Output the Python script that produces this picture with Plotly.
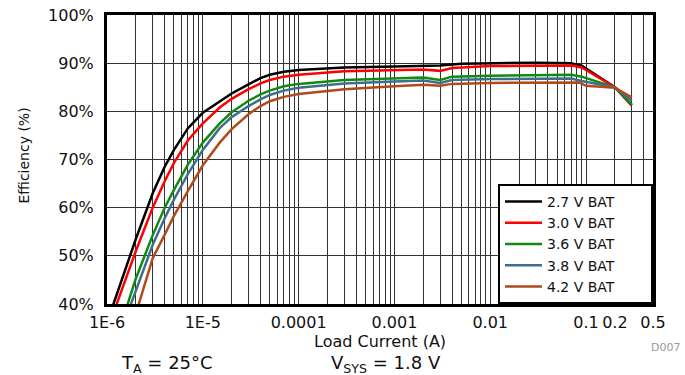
import plotly.graph_objects as go

# ---------------- data ----------------
names = ["2.7 V BAT", "3.0 V BAT", "3.6 V BAT", "3.8 V BAT", "4.2 V BAT"]
colors = ["#000000", "#ff0000", "#118a11", "#3f6e8c", "#b04a1c"]

x_27 = [1.1e-6, 1.5e-6, 2e-6, 3e-6, 4e-6, 5e-6, 7e-6, 1e-5, 1.5e-5, 2e-5, 3e-5, 4e-5, 5e-5, 7e-5, 1e-4, 3e-4, 1e-3, 3e-3, 5e-3, 0.01, 0.03, 0.07, 0.09, 0.2, 0.3]
y_27 = [38.5, 46.5, 53.5, 63.0, 68.5, 72.0, 76.5, 79.7, 82.0, 83.7, 85.6, 86.9, 87.6, 88.2, 88.6, 89.1, 89.3, 89.5, 89.9, 90.0, 90.1, 90.0, 89.5, 85.0, 81.3]

x_30 = [1.2e-6, 1.5e-6, 2e-6, 3e-6, 4e-6, 5e-6, 7e-6, 1e-5, 1.5e-5, 2e-5, 3e-5, 4e-5, 5e-5, 7e-5, 1e-4, 3e-4, 1e-3, 2e-3, 3e-3, 4e-3, 0.01, 0.03, 0.07, 0.09, 0.2, 0.3]
y_30 = [38.8, 44.0, 51.0, 60.0, 65.5, 69.3, 74.0, 77.5, 80.8, 82.6, 84.6, 85.8, 86.5, 87.2, 87.6, 88.3, 88.6, 88.7, 88.4, 89.0, 89.4, 89.5, 89.5, 89.1, 85.0, 81.2]

x_36 = [1.5e-6, 2e-6, 3e-6, 4e-6, 5e-6, 7e-6, 1e-5, 1.5e-5, 2e-5, 3e-5, 4e-5, 5e-5, 7e-5, 1e-4, 3e-4, 1e-3, 2e-3, 3e-3, 4e-3, 0.01, 0.03, 0.07, 0.09, 0.2, 0.3]
y_36 = [37.5, 45.3, 54.3, 60.0, 63.7, 69.0, 73.5, 77.5, 79.8, 82.2, 83.5, 84.3, 85.2, 85.7, 86.5, 86.8, 87.0, 86.5, 87.2, 87.4, 87.6, 87.6, 87.2, 85.0, 81.4]

x_38 = [1.6e-6, 2e-6, 3e-6, 4e-6, 5e-6, 7e-6, 1e-5, 1.5e-5, 2e-5, 3e-5, 4e-5, 5e-5, 7e-5, 1e-4, 3e-4, 1e-3, 2e-3, 3e-3, 4e-3, 0.01, 0.03, 0.07, 0.09, 0.2, 0.3]
y_38 = [37.5, 42.8, 52.3, 57.8, 61.7, 67.0, 72.0, 76.5, 78.8, 81.1, 82.5, 83.4, 84.3, 84.9, 85.8, 86.2, 86.4, 85.9, 86.5, 86.7, 86.8, 86.8, 86.3, 85.0, 82.2]

x_42 = [2e-6, 3e-6, 4e-6, 5e-6, 7e-6, 1e-5, 1.5e-5, 2e-5, 3e-5, 4e-5, 5e-5, 7e-5, 1e-4, 3e-4, 1e-3, 2e-3, 3e-3, 4e-3, 0.01, 0.03, 0.085, 0.1, 0.2, 0.3]
y_42 = [38.0, 49.5, 54.4, 58.3, 63.5, 68.8, 73.5, 76.3, 79.4, 81.1, 82.1, 83.0, 83.6, 84.6, 85.2, 85.5, 85.3, 85.7, 85.9, 86.0, 86.0, 85.3, 84.9, 82.9]

series_x = [x_27, x_30, x_36, x_38, x_42]
series_y = [y_27, y_30, y_36, y_38, y_42]

# axis ticks
x_grid = [m * 10 ** e for e in range(-6, 0) for m in range(1, 10)] + [0.5]
x_labels = {1e-6: "1E-6", 1e-5: "1E-5", 1e-4: "0.0001", 1e-3: "0.001", 0.01: "0.01", 0.1: "0.1", 0.2: "0.2", 0.5: "0.5"}
y_ticks = [40, 50, 60, 70, 80, 90, 100]

FONT = "DejaVu Sans"
PAD = "\u00a0" * 7

fig = go.Figure()
for xs, ys, nm, c in zip(series_x, series_y, names, colors):
    fig.add_trace(go.Scatter(x=xs, y=ys, mode="lines", name=nm + PAD,
                             line=dict(color=c, width=2.5)))

def lab(v):
    for k, t in x_labels.items():
        if abs(v - k) / k < 1e-6:
            return t
    return ""

fig.update_layout(
    width=685, height=375, autosize=False,
    margin=dict(l=107, r=32, t=15, b=71, pad=0, autoexpand=False),
    paper_bgcolor="white", plot_bgcolor="white",
    font=dict(family=FONT, size=15, color="#111"),
    showlegend=True,
    legend=dict(x=1, y=0, xanchor="right", yanchor="bottom",
                bgcolor="white", bordercolor="black", borderwidth=2,
                font=dict(family=FONT, size=14, color="#111"),
                tracegroupgap=0, itemwidth=37),
    xaxis=dict(type="log", range=[-6, -0.30103], automargin=False,
               tickmode="array", tickvals=x_grid, ticktext=[lab(v) for v in x_grid],
               tickangle=0, ticks="", showgrid=True, gridcolor="#333", gridwidth=1,
               showline=True, linecolor="black", linewidth=3, mirror=True,
               zeroline=False, ticklabelstandoff=2,
               tickfont=dict(family=FONT, size=16, color="#111")),
    yaxis=dict(range=[40, 100], tickmode="array", tickvals=y_ticks, automargin=False,
               ticktext=[f"{v}%" for v in y_ticks], ticks="",
               showgrid=True, gridcolor="#333", gridwidth=1,
               showline=True, linecolor="black", linewidth=3, mirror=True,
               zeroline=False, ticklabelstandoff=7,
               tickfont=dict(family=FONT, size=16, color="#111")),
)

ann = [
    dict(text="Efficiency (%)", x=0, y=0.5, xshift=-84, yshift=4, textangle=-90, font=dict(size=14)),
    dict(text="Load Current (A)", x=0.5, y=0, yshift=-37, font=dict(size=16)),
    dict(text="T<sub>A</sub> = 25°C", x=0, y=0, xshift=60, yshift=-60, font=dict(size=18)),
    dict(text="V<sub>SYS</sub> = 1.8 V", x=0, y=0, xshift=279, yshift=-60, font=dict(size=18)),
    dict(text="D007", x=0, y=0, xshift=558, yshift=-43, font=dict(size=11, color="#999")),
]
for a in ann:
    fig.add_annotation(xref="paper", yref="paper", showarrow=False,
                       xanchor="center", yanchor="middle", **a)

fig.write_html("out.html")
